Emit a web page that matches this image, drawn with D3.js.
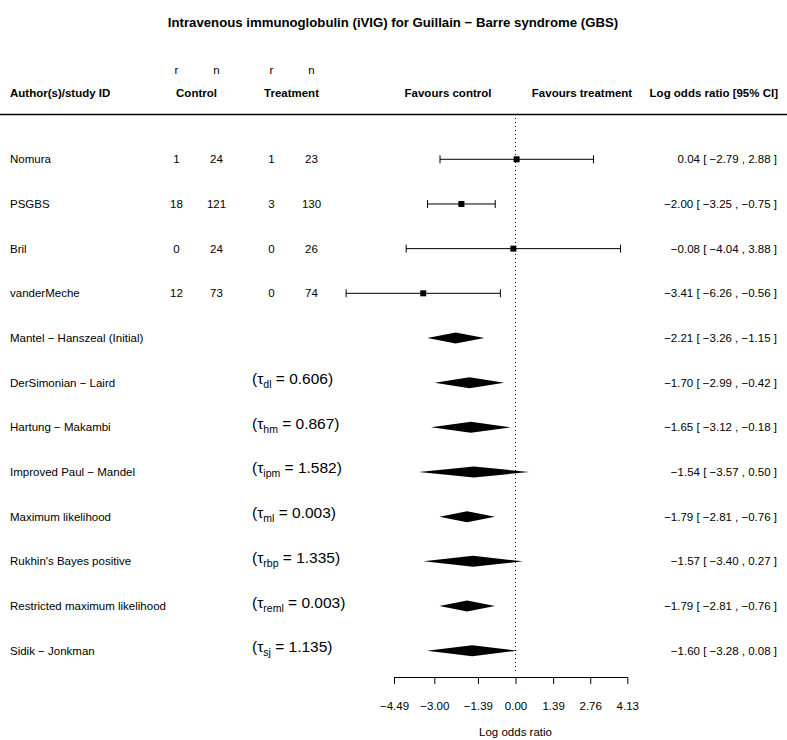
<!DOCTYPE html>
<html>
<head>
<meta charset="utf-8">
<script src="https://cdn.jsdelivr.net/npm/d3@7"></script>
<style>
  body { margin: 0; background: #fff; }
  svg text { font-family: "Liberation Sans", Arial, Helvetica, sans-serif; fill: #000; }
</style>
</head>
<body>
<div id="chart"></div>
<script>
// ---------- data ----------
const studies = ["Nomura", "PSGBS", "Bril", "vanderMeche"];
const ctrlR = [1, 18, 0, 12];
const ctrlN = [24, 121, 24, 73];
const trtR = [1, 3, 0, 0];
const trtN = [23, 130, 26, 74];
const studyEst = [0.04, -2.00, -0.08, -3.41];
const studyLo = [-2.79, -3.25, -4.04, -6.26];
const studyHi = [2.88, -0.75, 3.88, -0.56];

const methods = ["Mantel \u2212 Hanszeal (Initial)", "DerSimonian \u2212 Laird", "Hartung \u2212 Makambi",
  "Improved Paul \u2212 Mandel", "Maximum likelihood", "Rukhin's Bayes positive",
  "Restricted maximum likelihood", "Sidik \u2212 Jonkman"];
const tauSub = [null, "dl", "hm", "ipm", "ml", "rbp", "reml", "sj"];
const tauVal = [null, "0.606", "0.867", "1.582", "0.003", "1.335", "0.003", "1.135"];
const methodEst = [-2.21, -1.70, -1.65, -1.54, -1.79, -1.57, -1.79, -1.60];
const methodLo = [-3.26, -2.99, -3.12, -3.57, -2.81, -3.40, -2.81, -3.28];
const methodHi = [-1.15, -0.42, -0.18, 0.50, -0.76, 0.27, -0.76, 0.08];

const axisTicks = [-4.49, -3.00, -1.39, 0.00, 1.39, 2.76, 4.13];

// ---------- layout ----------
const W = 787, H = 740;
const FS = 11.5;
const svg = d3.select("#chart").append("svg").attr("width", W).attr("height", H);

const x = d3.scaleLinear().domain([-4.49, 4.13]).range([394, 627.3]);
const nRows = studies.length + methods.length;
const y = d3.scaleLinear().domain([0, nRows - 1]).range([159.3, 159.3 + 44.67 * (nRows - 1)]);

const fmt = v => (v < 0 ? "\u2212" : "") + Math.abs(v).toFixed(2);
const fmtCI = (e, l, h) => `${fmt(e)} [ ${fmt(l)} , ${fmt(h)} ]`;

// title
svg.append("text").attr("x", 393).attr("y", 27).attr("text-anchor", "middle")
  .attr("font-size", 13.2).attr("font-weight", "bold")
  .text("Intravenous immunoglobulin (iVIG) for Guillain \u2212 Barre syndrome (GBS)");

// header
const hdrY = 96.5;
const hdr = svg.append("g").attr("font-size", FS);
hdr.append("text").attr("x", 10).attr("y", hdrY).attr("font-weight", "bold").text("Author(s)/study ID");
const colX = [176.5, 216.5, 271.5, 311.5];
["r", "n", "r", "n"].forEach((t, i) => {
  hdr.append("text").attr("x", colX[i]).attr("y", 74).attr("text-anchor", "middle").text(t);
});
hdr.append("text").attr("x", 196.5).attr("y", hdrY).attr("text-anchor", "middle").attr("font-weight", "bold").text("Control");
hdr.append("text").attr("x", 291.5).attr("y", hdrY).attr("text-anchor", "middle").attr("font-weight", "bold").text("Treatment");
hdr.append("text").attr("x", 448).attr("y", hdrY).attr("text-anchor", "middle").attr("font-weight", "bold").text("Favours control");
hdr.append("text").attr("x", 582).attr("y", hdrY).attr("text-anchor", "middle").attr("font-weight", "bold").text("Favours treatment");
hdr.append("text").attr("x", 778).attr("y", hdrY).attr("text-anchor", "end").attr("font-weight", "bold").text("Log odds ratio [95% CI]");

svg.append("line").attr("x1", 0).attr("x2", W).attr("y1", 114.5).attr("y2", 114.5)
  .attr("stroke", "#000").attr("stroke-width", 1.6);

// reference line at 0
svg.append("line").attr("x1", x(0)).attr("x2", x(0)).attr("y1", 118).attr("y2", 673)
  .attr("stroke", "#000").attr("stroke-width", 1).attr("stroke-dasharray", "1,3");

// studies
const sg = svg.append("g");
studies.forEach((s, i) => {
  const yy = y(i);
  sg.append("text").attr("x", 10).attr("y", yy + 4).attr("font-size", FS).text(s);
  [ctrlR[i], ctrlN[i], trtR[i], trtN[i]].forEach((v, j) => {
    sg.append("text").attr("x", colX[j]).attr("y", yy + 4).attr("font-size", FS)
      .attr("text-anchor", "middle").text(v);
  });
  sg.append("line").attr("x1", x(studyLo[i])).attr("x2", x(studyHi[i])).attr("y1", yy).attr("y2", yy)
    .attr("stroke", "#000").attr("stroke-width", 1);
  [studyLo[i], studyHi[i]].forEach(v => {
    sg.append("line").attr("x1", x(v)).attr("x2", x(v)).attr("y1", yy - 4).attr("y2", yy + 4)
      .attr("stroke", "#000").attr("stroke-width", 1);
  });
  const sz = 6;
  sg.append("rect").attr("x", x(studyEst[i]) - sz / 2).attr("y", yy - sz / 2)
    .attr("width", sz).attr("height", sz).attr("fill", "#000");
  sg.append("text").attr("x", 777).attr("y", yy + 4).attr("font-size", FS).attr("text-anchor", "end")
    .text(fmtCI(studyEst[i], studyLo[i], studyHi[i]));
});

// methods (summary diamonds)
const mg = svg.append("g");
methods.forEach((m, k) => {
  const yy = y(studies.length + k);
  mg.append("text").attr("x", 10).attr("y", yy + 4).attr("font-size", FS).text(m);
  if (tauSub[k]) {
    const t = mg.append("text").attr("x", 252).attr("y", yy + 1.5).attr("font-size", 15.5);
    t.append("tspan").text("(\u03c4");
    t.append("tspan").attr("font-size", 10.5).attr("dy", 4).text(tauSub[k]);
    t.append("tspan").attr("dy", -4).text(" = " + tauVal[k] + ")");
  }
  const h = 5.5;
  const pts = [[x(methodLo[k]), yy], [x(methodEst[k]), yy - h], [x(methodHi[k]), yy], [x(methodEst[k]), yy + h]];
  mg.append("polygon").attr("points", pts.map(p => p.join(",")).join(" ")).attr("fill", "#000");
  mg.append("text").attr("x", 777).attr("y", yy + 4).attr("font-size", FS).attr("text-anchor", "end")
    .text(fmtCI(methodEst[k], methodLo[k], methodHi[k]));
});

// x axis
const axisY = 677;
const ax = svg.append("g").attr("transform", `translate(0,${axisY})`)
  .call(d3.axisBottom(x).tickValues(axisTicks).tickSize(7).tickPadding(18)
    .tickFormat(d => (d < 0 ? "\u2212" : "") + Math.abs(d).toFixed(2)));
ax.select(".domain").attr("d", `M${x(axisTicks[0])},0.5H${x(axisTicks[axisTicks.length - 1])}`)
  .attr("stroke", "#000");
ax.selectAll(".tick line").attr("stroke", "#000");
ax.selectAll(".tick text").attr("font-size", FS).attr("font-family", "'Liberation Sans', Arial, sans-serif").attr("fill", "#000");

svg.append("text").attr("x", x(0)).attr("y", 736).attr("text-anchor", "middle").attr("font-size", FS)
  .text("Log odds ratio");
</script>
</body>
</html>
